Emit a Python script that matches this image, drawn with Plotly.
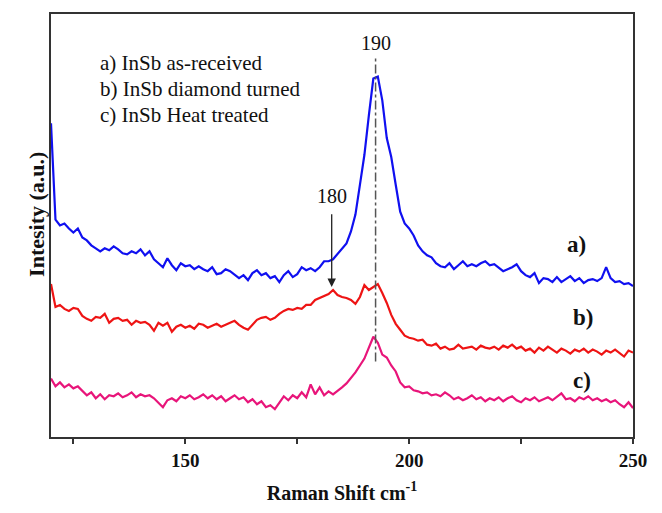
import plotly.graph_objects as go

# Raman shift axis (cm^-1), one sample per wavenumber
shift = list(range(120, 251))

# a) InSb as-received
as_received = [
    316, 219, 213, 215, 210, 206, 210, 201, 198, 193,
    190, 187, 190, 188, 192, 189, 185, 184, 187, 185,
    189, 183, 187, 179, 175, 171, 180, 173, 168, 175,
    172, 173, 169, 172, 169, 167, 171, 164, 165, 169,
    167, 163, 160, 163, 158, 165, 168, 163, 165, 160,
    162, 156, 163, 167, 161, 164, 171, 168, 170, 167,
    171, 177, 177, 179, 184, 189, 195, 207, 224, 254,
    284, 324, 361, 363, 339, 301, 282, 254, 227, 215,
    210, 203, 193, 187, 183, 181, 175, 172, 171, 175,
    169, 173, 177, 172, 174, 172, 175, 177, 173, 174,
    170, 167, 169, 171, 174, 167, 163, 161, 165, 155,
    160, 159, 156, 161, 156, 159, 162, 157, 160, 155,
    158, 159, 157, 160, 171, 160, 156, 157, 154, 155,
    152,
]

# b) InSb diamond turned
diamond_turned = [
    154, 131, 133, 129, 127, 130, 129, 122, 119, 117,
    121, 120, 124, 115, 119, 120, 117, 118, 113, 117,
    115, 116, 113, 107, 115, 112, 115, 106, 111, 113,
    110, 112, 109, 114, 113, 110, 112, 114, 111, 113,
    115, 117, 113, 110, 108, 113, 118, 120, 121, 118,
    120, 124, 127, 129, 128, 130, 129, 133, 133, 138,
    140, 142, 144, 148, 143, 141, 140, 138, 134, 141,
    153, 148, 151, 154, 145, 135, 123, 114, 108, 102,
    100, 99, 97, 98, 93, 92, 94, 89, 91, 88,
    89, 93, 89, 90, 91, 88, 92, 90, 89, 91,
    88, 92, 90, 93, 89, 91, 87, 89, 85, 90,
    87, 91, 88, 85, 89, 87, 84, 88, 86, 89,
    85, 88, 86, 83, 87, 85, 88, 84, 81, 87,
    85,
]

# c) InSb heat treated
heat_treated = [
    59, 51, 55, 50, 53, 49, 51, 46, 42, 45,
    39, 43, 38, 42, 41, 44, 40, 42, 45, 40,
    43, 41, 42, 39, 35, 30, 37, 39, 36, 41,
    39, 42, 38, 40, 43, 39, 42, 38, 41, 36,
    39, 42, 38, 40, 35, 38, 33, 36, 30, 32,
    28, 35, 41, 37, 42, 39, 45, 40, 53, 43,
    50, 42, 46, 43, 47, 50, 54, 59, 65, 72,
    79, 90, 101, 95, 83, 80, 72, 66, 55, 50,
    51, 47, 46, 44, 45, 42, 43, 41, 45, 42,
    38, 40, 37, 39, 42, 38, 40, 36, 39, 37,
    40, 36, 39, 41, 37, 35, 39, 37, 40, 36,
    38, 40, 37, 41, 44, 38, 39, 36, 40, 38,
    41, 37, 39, 36, 38, 35, 37, 33, 30, 35,
    29,
]

series_names = ["a) InSb as-received", "b) InSb diamond turned", "c) InSb Heat treated"]
series_tags = ["a)", "b)", "c)"]
series_colors = ["#1010f0", "#ee1414", "#e8157a"]

major_ticks = [150, 200, 250]

# peak markers
main_peak = 192.5
main_peak_label = "190"
shoulder_peak = 182.7
shoulder_label = "180"

SERIF = "Liberation Serif, Times New Roman, serif"

fig = go.Figure()
for ys, name, col in zip([as_received, diamond_turned, heat_treated], series_names, series_colors):
    fig.add_trace(go.Scatter(
        x=shift, y=ys, mode="lines", name=name,
        line=dict(color=col, width=2.2), showlegend=False,
    ))

# dash-dot guide through the main phonon peak
fig.add_shape(type="line", xref="x", yref="y",
              x0=main_peak, x1=main_peak, y0=76, y1=382,
              line=dict(color="#555555", width=1.5, dash="dashdot"))

fig.add_annotation(x=main_peak, y=397, text=main_peak_label, showarrow=False,
                   font=dict(family=SERIF, size=20, color="#111111"))

# labelled arrow pointing at the 180 shoulder
fig.add_annotation(x=shoulder_peak, y=151, ax=shoulder_peak, ay=243,
                   xref="x", yref="y", axref="x", ayref="y",
                   text=shoulder_label, showarrow=True, arrowhead=2, arrowsize=1.3,
                   arrowwidth=1.3, arrowcolor="#222222", startstandoff=6,
                   font=dict(family=SERIF, size=20, color="#111111"))

# curve tags on the right
for tag, (tx, ty) in zip(series_tags, [(237.3, 194), (238.8, 120), (238.6, 57)]):
    fig.add_annotation(x=tx, y=ty, text="<b>" + tag + "</b>", showarrow=False,
                       font=dict(family=SERIF, size=23, color="#111111"))

# description block
for i, name in enumerate(series_names):
    fig.add_annotation(x=0.080, y=0.883 - i * 0.061, xref="paper", yref="paper",
                       xanchor="left", yanchor="middle", text=name, showarrow=False,
                       font=dict(family=SERIF, size=21, color="#111111"))

# y-axis caption
fig.add_annotation(x=-0.05, y=0.526, xref="paper", yref="paper",
                   text="<b>Intesity (a.u.)</b>", textangle=-90, showarrow=False,
                   font=dict(family=SERIF, size=22, color="#111111"))

fig.update_layout(
    width=662, height=513,
    margin=dict(l=51, r=29, t=13, b=74),
    paper_bgcolor="white", plot_bgcolor="white",
    font=dict(family=SERIF, color="#111111"),
)
fig.update_xaxes(
    range=[120, 250], tickvals=major_ticks,
    ticks="outside", ticklen=5, tickwidth=1.5, tickcolor="#333333",
    minor=dict(ticks="outside", tick0=125, dtick=25, ticklen=5, tickwidth=1.5, tickcolor="#333333"),
    showline=True, linecolor="#333333", linewidth=1.5, mirror=True,
    showgrid=False, zeroline=False,
    tickfont=dict(family=SERIF, size=19, color="#111111", weight="bold"),
    title=dict(text="<b>Raman Shift cm<sup>-1</sup></b>", font=dict(family=SERIF, size=20), standoff=16),
)
fig.update_yaxes(
    range=[0, 426], showticklabels=False, ticks="",
    showline=True, linecolor="#333333", linewidth=1.5, mirror=True,
    showgrid=False, zeroline=False,
)

fig.write_html("out.html")
